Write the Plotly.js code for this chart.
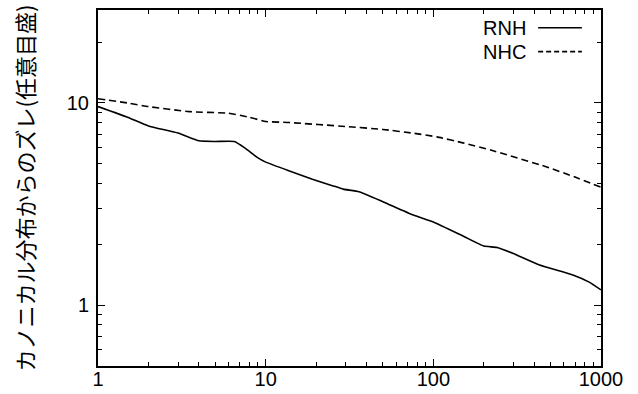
<!DOCTYPE html>
<html>
<head>
<meta charset="utf-8">
<script src="https://cdn.plot.ly/plotly-3.0.1.min.js"></script>
<style>html,body{margin:0;padding:0;background:#fff;}#chart{width:638px;height:394px;}</style>
</head>
<body>
<div id="chart"></div>
<script>
const seriesNames = ["RNH", "NHC"];
const rnhX = [1, 1.5, 2, 3, 4, 5, 6.5, 7.5, 9, 10, 14, 19, 25, 29, 36, 50, 76, 100, 150, 200, 240, 300, 430, 680, 850, 1000];
const rnhY = [9.6, 8.5, 7.7, 7.1, 6.5, 6.45, 6.45, 6.0, 5.35, 5.1, 4.6, 4.2, 3.9, 3.75, 3.64, 3.25, 2.79, 2.58, 2.2, 1.96, 1.93, 1.8, 1.58, 1.41, 1.3, 1.19];
const nhcX = [1, 1.5, 2, 3.5, 6, 8, 10, 14, 30, 50, 75, 105, 150, 220, 470, 700, 1000];
const nhcY = [10.5, 10.0, 9.6, 9.06, 8.9, 8.5, 8.1, 8.0, 7.65, 7.4, 7.1, 6.8, 6.35, 5.85, 4.84, 4.3, 3.83];
const xTickVals = [1, 10, 100, 1000];
const xTickText = ["1", "10", "100", "1000"];
const yTickVals = [1, 10];
const yTickText = ["1", "10"];
const yTitle = "カノニカル分布からのズレ(任意目盛)";

const xMinor = [];
for (let d = 1; d < 1000; d *= 10) for (let k = 2; k <= 9; k++) xMinor.push(k * d);
const yMinor = [];
for (let d = 0.1; d < 30; d *= 10) for (let k = 2; k <= 9; k++) { const v = k * d; if (v >= 0.5 && v <= 28) yMinor.push(v); }

const font = "Liberation Sans, Arial, sans-serif";
const traces = [
  {x: rnhX, y: rnhY, name: seriesNames[0], mode: "lines", line: {color: "#000", width: 1.6, shape: "spline", smoothing: 0.4}},
  {x: nhcX, y: nhcY, name: seriesNames[1], mode: "lines", line: {color: "#000", width: 1.6, dash: "7px,4px", shape: "spline", smoothing: 0.4}}
];
const axisCommon = {
  type: "log", showline: true, linecolor: "#000", linewidth: 2, mirror: "ticks",
  ticks: "inside", ticklen: 7, tickwidth: 1, tickcolor: "#000",
  showgrid: false, zeroline: false, tickmode: "array",
  tickfont: {family: font, size: 20, color: "#000"}
};
const layout = {
  width: 638, height: 394,
  margin: {l: 98, r: 37, t: 10, b: 28},
  paper_bgcolor: "#fff", plot_bgcolor: "#fff",
  showlegend: false,
  xaxis: Object.assign({}, axisCommon, {
    range: [0, 3], tickvals: xTickVals, ticktext: xTickText, ticklabelstandoff: -6,
    minor: {tickmode: "array", tickvals: xMinor, ticks: "inside", ticklen: 4, tickcolor: "#000", tickwidth: 1}
  }),
  yaxis: Object.assign({}, axisCommon, {
    range: [Math.log10(0.5), 1.46], tickvals: yTickVals, ticktext: yTickText, ticklabelstandoff: 3,
    minor: {tickmode: "array", tickvals: yMinor, ticks: "inside", ticklen: 4, tickcolor: "#000", tickwidth: 1},
    title: {text: yTitle, font: {family: "Noto Sans CJK JP, sans-serif", size: 22, color: "#000"}, standoff: 26}
  }),
  annotations: [
    {xref: "paper", yref: "paper", x: 0.854, y: 0.95, xanchor: "right", yanchor: "middle", text: seriesNames[0], showarrow: false, font: {family: font, size: 20, color: "#000"}},
    {xref: "paper", yref: "paper", x: 0.854, y: 0.883, xanchor: "right", yanchor: "middle", text: seriesNames[1], showarrow: false, font: {family: font, size: 20, color: "#000"}}
  ],
  shapes: [
    {type: "line", xref: "paper", yref: "paper", x0: 0.875, x1: 0.962, y0: 0.95, y1: 0.95, line: {color: "#000", width: 1.6}},
    {type: "line", xref: "paper", yref: "paper", x0: 0.875, x1: 0.962, y0: 0.883, y1: 0.883, line: {color: "#000", width: 1.6, dash: "5px,3px"}}
  ]
};
Plotly.newPlot("chart", traces, layout, {staticPlot: true, displayModeBar: false});
</script>
</body>
</html>
